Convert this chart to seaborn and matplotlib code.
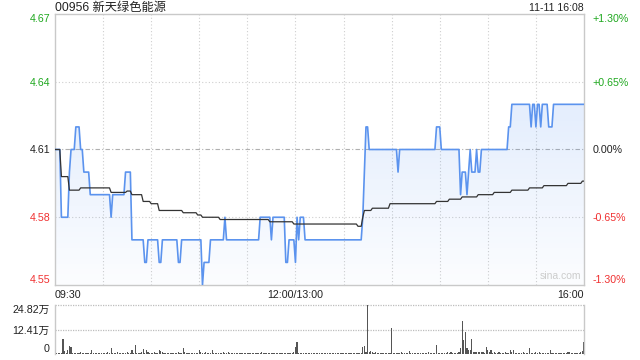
import numpy as np
import pandas as pd
import matplotlib
matplotlib.use("Agg")
import matplotlib.pyplot as plt
import seaborn as sns

# ---------------- data ----------------
title = "00956 新天绿色能源"
stamp = "11-11 16:08"
prev_close = 4.61
price_ticks = [4.55, 4.58, 4.61, 4.64, 4.67]
x_tick_min = [0, 150, 330]
x_tick_labels = ["09:30", "12:00/13:00", "16:00"]
vol_ticks = [0, 12.41, 24.82]
vol_tick_labels = ["0", "12.41万", "24.82万"]

# price: minute where a new level starts, and the level
price_start = [0, 4, 9, 10, 13, 16, 18, 22, 35, 36, 44, 48, 56, 58, 65, 67, 77, 79,
               92, 93, 97, 106, 107, 128, 135, 136, 144, 146, 150, 151, 152, 153, 156,
               192, 193, 194, 196, 214, 215, 238, 241, 253, 254, 257, 258, 259, 260,
               263, 264, 266, 283, 285, 297, 298, 300, 301, 303, 304, 308, 311]
price_value = [4.61, 4.58, 4.60, 4.61, 4.62, 4.61, 4.60, 4.59, 4.58, 4.59, 4.60, 4.57,
               4.56, 4.57, 4.56, 4.57, 4.56, 4.57, 4.55, 4.56, 4.57, 4.58, 4.57, 4.58,
               4.57, 4.58, 4.56, 4.57, 4.56, 4.58, 4.57, 4.58, 4.57, 4.58, 4.60, 4.62,
               4.61, 4.60, 4.61, 4.62, 4.61, 4.59, 4.60, 4.59, 4.60, 4.61, 4.60, 4.61,
               4.60, 4.61, 4.62, 4.63, 4.62, 4.63, 4.62, 4.63, 4.62, 4.63, 4.62, 4.63]

# average price: minute where a new level starts, and the level
avg_start = [0, 4, 9, 16, 35, 45, 48, 55, 60, 65, 80, 89, 92, 103, 134, 149, 189,
             192, 193, 198, 209, 238, 246, 254, 264, 274, 285, 296, 305, 320, 329]
avg_value = [4.610, 4.598, 4.592, 4.593, 4.591, 4.5916, 4.590, 4.587, 4.586, 4.583,
             4.582, 4.581, 4.580, 4.579, 4.578, 4.577, 4.576, 4.580, 4.583, 4.584,
             4.586, 4.587, 4.588, 4.589, 4.590, 4.591, 4.592, 4.593, 4.594, 4.595, 4.596]

# volume per minute (万)
volume = [
    0.6, 0.4, 0.5, 0.4, 0.6, 7.7, 1.5, 0.5, 1.8, 4.2, 3.7, 0.6, 0.5, 0.4, 0.6,
    0.5, 0.8, 0.4, 0.5, 0.3, 0.5, 0.6, 0.4, 2.2, 0.6, 0.4, 0.5, 0.3, 0.5, 0.4,
    0.6, 0.4, 0.5, 0.8, 0.6, 3.2, 0.5, 0.4, 0.6, 0.9, 0.5, 0.4, 0.6, 0.3, 0.5,
    0.8, 0.4, 0.6, 2.2, 0.5, 4.4, 0.6, 0.4, 0.5, 0.8, 2.7, 0.6, 2.2, 1.0, 0.5,
    0.4, 0.6, 0.9, 0.5, 0.4, 2.2, 1.7, 1.2, 0.5, 0.4, 0.6, 0.5, 0.3, 0.4, 0.6,
    0.5, 0.4, 0.8, 0.5, 0.6, 3.2, 0.9, 0.5, 0.6, 0.4, 0.7, 0.5, 0.4, 0.6, 0.5,
    2.2, 0.8, 0.6, 0.5, 0.9, 0.4, 0.5, 0.6, 2.2, 0.5, 0.4, 0.7, 0.5, 0.4, 0.6,
    1.2, 0.5, 0.4, 1.2, 0.5, 0.6, 0.4, 0.5, 0.3, 0.5, 0.4, 0.6, 0.3, 0.5, 0.4,
    0.5, 0.3, 0.4, 0.5, 0.3, 0.4, 0.6, 0.4, 0.5, 1.2, 0.4, 0.5, 0.3, 0.4, 0.6,
    0.4, 0.5, 0.3, 0.4, 0.5, 0.4, 0.6, 0.3, 0.5, 0.4, 0.6, 0.5, 0.4, 0.5, 0.8,
    3.4, 6.3, 0.6, 0.5, 0.4, 0.5, 0.3, 0.4, 0.5, 0.3, 0.4, 0.5, 0.3, 0.4, 0.6,
    0.4, 0.3, 0.5, 0.4, 0.6, 0.4, 0.3, 0.5, 0.4, 0.3, 0.5, 0.4, 0.6, 0.3, 0.4,
    0.5, 0.4, 0.3, 0.5, 0.4, 0.6, 0.3, 0.4, 0.5, 0.4, 0.6, 0.5, 3.7, 4.2, 0.8,
    24.82, 0.9, 1.7, 1.2, 0.5, 0.9, 0.4, 0.6, 0.5, 0.4, 0.6, 0.5, 0.4, 0.5, 0.6,
    13.4, 0.5, 0.4, 0.6, 0.5, 0.4, 1.2, 0.5, 0.6, 0.4, 0.5, 1.7, 0.5, 0.4, 0.6,
    0.5, 0.4, 0.5, 0.6, 0.4, 0.5, 0.4, 0.6, 0.9, 0.5, 0.4, 0.6, 0.5, 4.7, 0.5,
    0.6, 0.5, 0.4, 0.6, 0.5, 1.2, 0.5, 1.0, 0.6, 0.5, 0.4, 0.6, 0.9, 3.0, 16.8,
    6.9, 10.9, 3.0, 2.2, 2.2, 7.7, 1.0, 1.2, 1.0, 1.2, 1.0, 1.2, 1.0, 0.6, 3.7,
    1.9, 0.8, 1.9, 0.6, 1.0, 0.5, 0.6, 1.0, 0.5, 0.4, 0.6, 1.0, 0.5, 0.6, 2.2,
    0.8, 2.2, 0.6, 0.5, 0.4, 0.6, 0.5, 1.0, 0.4, 0.5, 0.6, 3.2, 0.5, 0.4, 0.6,
    1.2, 0.5, 1.0, 0.4, 0.6, 0.5, 0.4, 0.6, 0.5, 2.2, 0.6, 0.5, 0.4, 0.3, 0.5,
    0.4, 0.3, 0.5, 0.4, 0.6, 1.0, 1.0, 0.5, 0.4, 0.6, 0.5, 0.4, 0.6, 1.0, 1.7,
    6.2,
]

# ---------------- build table ----------------
n_min = len(volume)
minutes = np.arange(n_min)
price = np.repeat(price_value, np.diff(price_start + [n_min]))
avg = np.repeat(avg_value, np.diff(avg_start + [n_min]))
df = pd.DataFrame({"minute": minutes, "price": price, "avg": avg, "volume": volume})

# ---------------- style ----------------
sns.set_theme(style="white")
plt.rcParams["font.family"] = ["Liberation Sans", "Noto Sans CJK SC", "DejaVu Sans"]

W, H = 640, 360
fig = plt.figure(figsize=(W / 100, H / 100), dpi=100)


def rect(l, t, r, b):
    return [l / W, 1 - b / H, (r - l) / W, (b - t) / H]


spine_c = "#c9c9c9"
green = "#1fa81f"
red = "#f03030"
dark = "#222222"
fs = 7.7

ax = fig.add_axes(rect(55, 14, 584, 285))
axv = fig.add_axes(rect(55, 305, 584, 354))

lo, hi = price_ticks[0], price_ticks[-1]

# gradient fill under price
poly = ax.fill_between(df["minute"], df["price"], lo, color="none", lw=0)
grad = np.zeros((256, 1, 4))
grad[:, :, 0] = 0.30
grad[:, :, 1] = 0.55
grad[:, :, 2] = 0.95
grad[:, 0, 3] = np.linspace(0.02, 0.22, 256)
im = ax.imshow(grad, extent=[0, n_min - 1, lo, hi], aspect="auto",
               origin="lower", zorder=1, interpolation="bilinear")
im.set_clip_path(poly.get_paths()[0], transform=ax.transData)

# grid
for m in range(30, 330, 30):
    ax.axvline(m, color="#cfcfcf", lw=0.8, ls=(0, (1, 2)), zorder=0.5)
ax.axhline(prev_close, color="#b0b0b0", lw=0.8, ls=(0, (4, 2, 1, 2)), zorder=0.5)
for v in price_ticks[1:-1]:
    if v != prev_close:
        ax.axhline(v, color="#cfcfcf", lw=0.8, ls=(0, (1, 2)), zorder=0.5)

sns.lineplot(data=df, x="minute", y="price", ax=ax, color="#5b93ee", lw=1.2, zorder=3)
sns.lineplot(data=df, x="minute", y="avg", ax=ax, color="#333333", lw=0.9, zorder=4)

ax.set_xlim(0, n_min - 1)
ax.set_ylim(lo, hi)
ax.set_xlabel("")
ax.set_ylabel("")

# left price labels
ax.set_yticks(price_ticks)
ax.set_yticklabels([f"{v:.2f}" for v in price_ticks])
ax.tick_params(axis="y", length=0, pad=3, labelsize=fs)
for lab, v in zip(ax.get_yticklabels(), price_ticks):
    lab.set_color(green if v > prev_close + 1e-9 else (red if v < prev_close - 1e-9 else dark))
ax.get_yticklabels()[0].set_va("bottom")
ax.get_yticklabels()[-1].set_va("top")

# x labels
ax.set_xticks(x_tick_min)
ax.set_xticklabels(x_tick_labels)
ax.tick_params(axis="x", length=0, pad=3.5, labelsize=fs, colors=dark)
xl = ax.get_xticklabels()
xl[0].set_ha("left")
xl[1].set_ha("center")
xl[-1].set_ha("right")

for s in ax.spines.values():
    s.set_color(spine_c)
    s.set_linewidth(1)

# right percent labels
ax2 = ax.twinx()
ax2.set_ylim(lo, hi)
ax2.set_yticks(price_ticks)
pct_labels = []
for v in price_ticks:
    p = (v - prev_close) / prev_close * 100
    pct_labels.append("0.00%" if abs(p) < 1e-9 else f"{p:+.2f}%")
ax2.set_yticklabels(pct_labels)
ax2.tick_params(axis="y", length=0, pad=6, labelsize=fs)
for lab, v in zip(ax2.get_yticklabels(), price_ticks):
    lab.set_color(green if v > prev_close + 1e-9 else (red if v < prev_close - 1e-9 else dark))
ax2.get_yticklabels()[0].set_va("bottom")
ax2.get_yticklabels()[-1].set_va("top")
for s in ax2.spines.values():
    s.set_visible(False)
ax2.grid(False)

ax.text(0.994, 0.033, "sina.com", transform=ax.transAxes, ha="right", va="center",
        color="#cccccc", fontsize=7.5, zorder=2)

# volume panel
axv.bar(df["minute"], df["volume"], width=0.7, color="#555555", lw=0)
axv.set_xlim(0, n_min - 1)
axv.set_ylim(vol_ticks[0], vol_ticks[-1])
for v in vol_ticks[1:]:
    axv.axhline(v, color="#bdbdbd", lw=0.9, ls=(0, (1, 1)), zorder=0.5, clip_on=False)
axv.set_yticks(vol_ticks)
axv.set_yticklabels(vol_tick_labels)
axv.tick_params(axis="y", length=0, pad=4, labelsize=fs, colors=dark)
axv.get_yticklabels()[0].set_va("bottom")
axv.get_yticklabels()[-1].set_va("top")
axv.set_xticks([])
axv.set_xlabel("")
axv.set_ylabel("")
axv.spines["top"].set_visible(False)
axv.spines["bottom"].set_visible(False)
for k in ("left", "right"):
    axv.spines[k].set_color(spine_c)
    axv.spines[k].set_linewidth(1)

# header texts
fig.text(55 / W, 1 - 8 / H, title, fontsize=8.8, ha="left", va="center", color=dark)
fig.text(584 / W, 1 - 8 / H, stamp, fontsize=7.6, ha="right", va="center", color=dark)

fig.savefig("out.png", dpi=100)
